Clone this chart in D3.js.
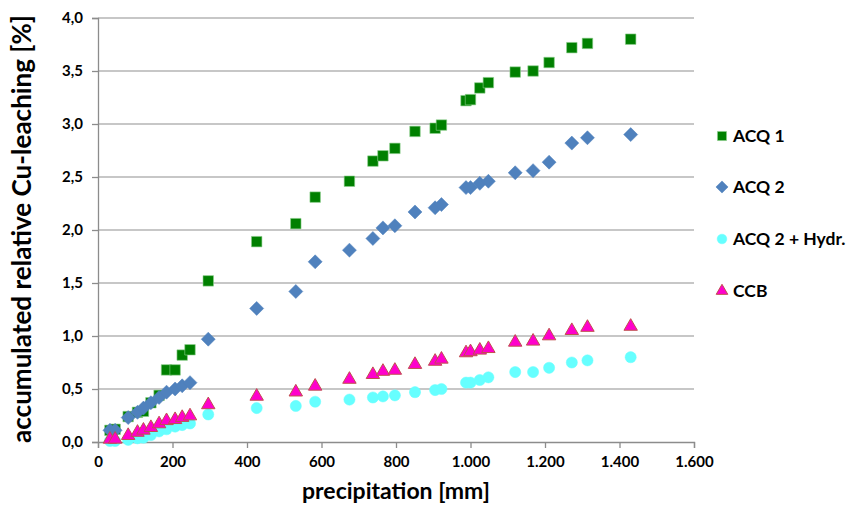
<!DOCTYPE html>
<html><head><meta charset="utf-8">
<script src="https://cdn.jsdelivr.net/npm/d3@7"></script>
<style>body{margin:0;background:#fff}svg{display:block}text{font-family:Lato,"Open Sans",sans-serif;font-weight:bold}</style>
</head><body><svg id="c" width="860" height="507"></svg>
<script>
const precipitation = [32,46,81,106,122,142,164,184,207,226,247,296,426,531,583,675,738,765,797,851,905,922,988,1000,1025,1048,1120,1168,1211,1272,1314,1430];
const acq1 = [0.11,0.12,0.24,0.28,0.29,0.37,0.44,0.68,0.68,0.82,0.87,1.52,1.89,2.06,2.31,2.46,2.65,2.70,2.77,2.93,2.96,2.99,3.22,3.23,3.34,3.39,3.49,3.50,3.58,3.72,3.76,3.80];
const acq2 = [0.11,0.11,0.23,0.28,0.32,0.37,0.42,0.47,0.50,0.53,0.56,0.97,1.26,1.42,1.70,1.81,1.92,2.02,2.04,2.17,2.21,2.24,2.40,2.40,2.44,2.46,2.54,2.56,2.64,2.82,2.87,2.90];
const acq2Hydr = [0.01,0.01,0.02,0.035,0.04,0.065,0.10,0.12,0.145,0.16,0.175,0.26,0.32,0.34,0.38,0.40,0.42,0.43,0.44,0.47,0.49,0.50,0.56,0.56,0.585,0.61,0.66,0.66,0.70,0.75,0.77,0.80];
const ccb = [0.035,0.035,0.07,0.10,0.12,0.145,0.18,0.21,0.22,0.24,0.255,0.36,0.44,0.48,0.535,0.60,0.645,0.675,0.685,0.74,0.77,0.79,0.85,0.86,0.875,0.89,0.95,0.96,1.01,1.06,1.09,1.10];
const seriesNames = ["ACQ 1","ACQ 2","ACQ 2 + Hydr.","CCB"];
const xTicks = [0,200,400,600,800,1000,1200,1400,1600];
const yTicks = [0,0.5,1,1.5,2,2.5,3,3.5,4];

const svg = d3.select("#c");
const x = d3.scaleLinear().domain([0,1600]).range([98,694]);
const y = d3.scaleLinear().domain([0,4]).range([442,18]);
const fmtX = d => d3.format(",")(d).replace(/,/g,".");
const fmtY = d => d3.format(".1f")(d).replace(".",",");

function fitWidth(sel, target, base){
  sel.style("font-size", base+"px");
  const w = sel.node().getComputedTextLength();
  if (w > 0) sel.style("font-size", (base*target/w).toFixed(2)+"px");
}

// gridlines
svg.append("g").selectAll("line").data(yTicks.slice(1)).join("line")
  .attr("x1",x(0)).attr("x2",x(1600)).attr("y1",d=>y(d)).attr("y2",d=>y(d))
  .attr("stroke","#b4b4b4").attr("stroke-width",1.6);

const ya = svg.append("g").attr("transform",`translate(${x(0)},0)`)
  .call(d3.axisLeft(y).tickValues(yTicks).tickFormat(fmtY).tickSize(6).tickPadding(9));
const xa = svg.append("g").attr("transform",`translate(0,${y(0)})`)
  .call(d3.axisBottom(x).tickValues(xTicks).tickFormat(fmtX).tickSize(6).tickPadding(8));
[ya,xa].forEach(a=>{
  a.select(".domain").attr("stroke","#8c8c8c").attr("stroke-width",1.3);
  a.selectAll(".tick line").attr("stroke","#8c8c8c").attr("stroke-width",1.3);
  a.selectAll(".tick text").attr("fill","#000").style("font-size","15px").style("font-family","Lato, sans-serif").style("font-weight","bold");
});

const data = [acq1,acq2,acq2Hydr,ccb];
const styles = [
  {sym:d3.symbolSquare,size:110,rot:0,fill:"#008000",stroke:"#8fd08f",sw:0.6},
  {sym:d3.symbolSquare,size:98,rot:45,fill:"#4f81bd",stroke:"#4f81bd",sw:0.5},
  {sym:d3.symbolCircle,size:98,rot:0,fill:"#66ffff",stroke:"#66ffff",sw:0.5},
  {sym:d3.symbolTriangle,size:78,rot:0,fill:"#ff00cc",stroke:"#c0504d",sw:1}
];
data.forEach((vals,i)=>{
  const st = styles[i];
  svg.append("g").selectAll("path").data(vals).join("path")
    .attr("d",d3.symbol(st.sym,st.size))
    .attr("transform",(d,j)=>`translate(${x(precipitation[j])},${y(d) + (st.sym===d3.symbolTriangle?1:0)}) rotate(${st.rot})`)
    .attr("fill",st.fill).attr("stroke",st.stroke).attr("stroke-width",st.sw);
});

// legend
const legY = [136,187,239,291];
const lg = svg.append("g");
seriesNames.forEach((n,i)=>{
  const st = styles[i];
  lg.append("path").attr("d",d3.symbol(st.sym, st.size*0.75))
    .attr("transform",`translate(722,${legY[i]}) rotate(${st.rot})`)
    .attr("fill",st.fill).attr("stroke",st.stroke).attr("stroke-width",st.sw);
  lg.append("text").attr("x",733).attr("y",legY[i]).attr("dy","0.36em")
    .style("font-size","17.5px").text(n);
});

const xt = svg.append("text").attr("x",396).attr("y",499).attr("text-anchor","middle").text("precipitation [mm]");
fitWidth(xt, 188, 20);
const yt = svg.append("text").attr("transform","translate(31,229) rotate(-90)").attr("text-anchor","middle")
  .text("accumulated relative Cu-leaching [%]");
fitWidth(yt, 428, 20);
</script></body></html>
